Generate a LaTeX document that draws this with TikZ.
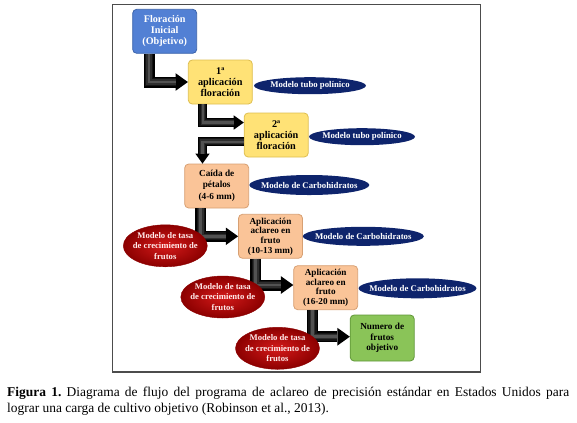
\documentclass[tikz,border=0pt]{standalone}
\usepackage{fontspec}
\setmainfont{Liberation Serif}
\usetikzlibrary{arrows.meta}
\usetikzlibrary{shapes.geometric}

\definecolor{azulcaja}{RGB}{82,128,212}
\definecolor{azulborde}{RGB}{58,98,170}
\definecolor{amarillo}{RGB}{255,226,118}
\definecolor{amarilloborde}{RGB}{222,190,80}
\definecolor{salmon}{RGB}{250,196,152}
\definecolor{salmonborde}{RGB}{215,160,115}
\definecolor{verde}{RGB}{138,196,88}
\definecolor{verdeborde}{RGB}{95,150,55}
\definecolor{marino}{RGB}{14,36,108}
\definecolor{rojo}{RGB}{212,26,26}
\definecolor{rojooscuro}{RGB}{140,0,0}

% flecha gruesa doblada con brillo en el centro
\newcommand{\tubo}[2][11]{%
  \draw[line width=#1bp, black,
    -{Triangle[length=0pt 1.12, width=0pt 1.6, line width=0pt]}] #2;
  \draw[line width=0.75*#1bp, black!92, shorten >=1.12*#1bp] #2;
  \draw[line width=0.5*#1bp, black!82, shorten >=1.12*#1bp] #2;
  \draw[line width=0.25*#1bp, black!68, shorten >=1.12*#1bp] #2;}

\begin{document}
\begin{tikzpicture}[x=1bp,y=-1bp]
  \useasboundingbox (0,0) rectangle (577,422);
  \draw[line width=1.3bp, black!70] (112.7,4.7) rectangle (480.7,372);

  \begin{scope}[every node/.style={rectangle,rounded corners=4bp,draw,
      line width=0.8bp,align=center,inner sep=1bp,
      minimum width=64bp,minimum height=44bp,
      font=\fontsize{9.3}{10.6}\selectfont\bfseries}]
    \node[fill=azulcaja,draw=azulborde,text=white,
      font=\fontsize{10.2}{11}\selectfont\bfseries] (flor) at (164.7,31.3)
      {Floración\\Inicial\\(Objetivo)};
    \node[fill=amarillo,draw=amarilloborde,
      font=\fontsize{10.3}{11}\selectfont\bfseries] (ap1) at (220.3,82)
      {1ª\\aplicación\\floración};
    \node[fill=amarillo,draw=amarilloborde,
      font=\fontsize{10.3}{11}\selectfont\bfseries] (ap2) at (276.2,135)
      {2ª\\aplicación\\floración};
    \node[fill=salmon,draw=salmonborde] (caida) at (216.7,186)
      {Caída de\\pétalos\\[2bp](4-6 mm)};
    \node[fill=salmon,draw=salmonborde,font=\fontsize{9.2}{9.7}\selectfont\bfseries]
      (fruto1) at (270.5,236.3) {Aplicación\\aclareo en\\fruto\\(10-13 mm)};
    \node[fill=salmon,draw=salmonborde,font=\fontsize{9.2}{9.7}\selectfont\bfseries]
      (fruto2) at (325.7,287.7) {Aplicación\\aclareo en\\fruto\\(16-20 mm)};
    \node[fill=verde,draw=verdeborde,minimum height=46bp] (meta) at (382.2,338)
      {Numero de\\frutos\\objetivo};
  \end{scope}

  \tubo{([xshift=-15.7bp]flor.south) |- (ap1.west)}
  \tubo[9]{([xshift=-17.5bp]ap1.south) |- ([yshift=12.5bp]ap2.west)}
  \tubo[9]{([yshift=-6.7bp]ap2.west) -| ([xshift=-14.2bp]caida.north)}
  \tubo{([xshift=-15.9bp]caida.south) |- (fruto1.west)}
  \tubo{([xshift=-14.7bp]fruto1.south) |- ([yshift=2.7bp]fruto2.west)}
  \tubo{([xshift=-13.2bp]fruto2.south) |- ([yshift=1.3bp]meta.west)}

  \begin{scope}[every node/.style={ellipse,inner xsep=-8bp,inner ysep=-2bp,
      align=center,text=white,font=\fontsize{8.8}{9}\selectfont\bfseries}]
    \node[fill=marino,minimum width=112bp,minimum height=17bp] (tubo1)
      at (310,85.7) {Modelo tubo polínico};
    \node[fill=marino,minimum width=106bp,minimum height=17bp] (tubo2)
      at (362,136.7) {Modelo tubo polínico};
    \node[fill=marino,minimum width=120bp,minimum height=20bp] (carbo1)
      at (309.3,185) {Modelo de Carbohidratos};
    \node[fill=marino,minimum width=121bp,minimum height=19bp] (carbo2)
      at (363.3,236.3) {Modelo de Carbohidratos};
    \node[fill=marino,minimum width=118bp,minimum height=20bp] (carbo3)
      at (417.5,288.3) {Modelo de Carbohidratos};
  \end{scope}

  \begin{scope}[every node/.style={ellipse,inner xsep=-8bp,inner ysep=-3bp,
      align=center,text=white!92!red,draw=rojooscuro,line width=0.4bp,
      inner color=rojo,outer color=rojooscuro,
      minimum width=84bp,minimum height=42bp,
      font=\fontsize{8.7}{10.6}\selectfont\bfseries}]
    \node (tasa1) at (165.3,245.8) {Modelo de tasa\\de crecimiento de\\frutos};
    \node (tasa2) at (222.8,297) {Modelo de tasa\\de crecimiento de\\frutos};
    \node (tasa3) at (277.5,348.3) {Modelo de tasa\\de crecimiento de\\frutos};
  \end{scope}

  \node[anchor=north west,inner sep=0pt,text width=562bp,align=justify,
    font=\fontsize{13.5}{15.7}\selectfont\frenchspacing] (pie) at (7,387)
    {\textbf{Figura 1.} Diagrama de flujo del programa de aclareo de precisión
     estándar en Estados Unidos para\linebreak
     lograr una carga de cultivo objetivo (Robinson et al., 2013).};
\end{tikzpicture}
\end{document}
